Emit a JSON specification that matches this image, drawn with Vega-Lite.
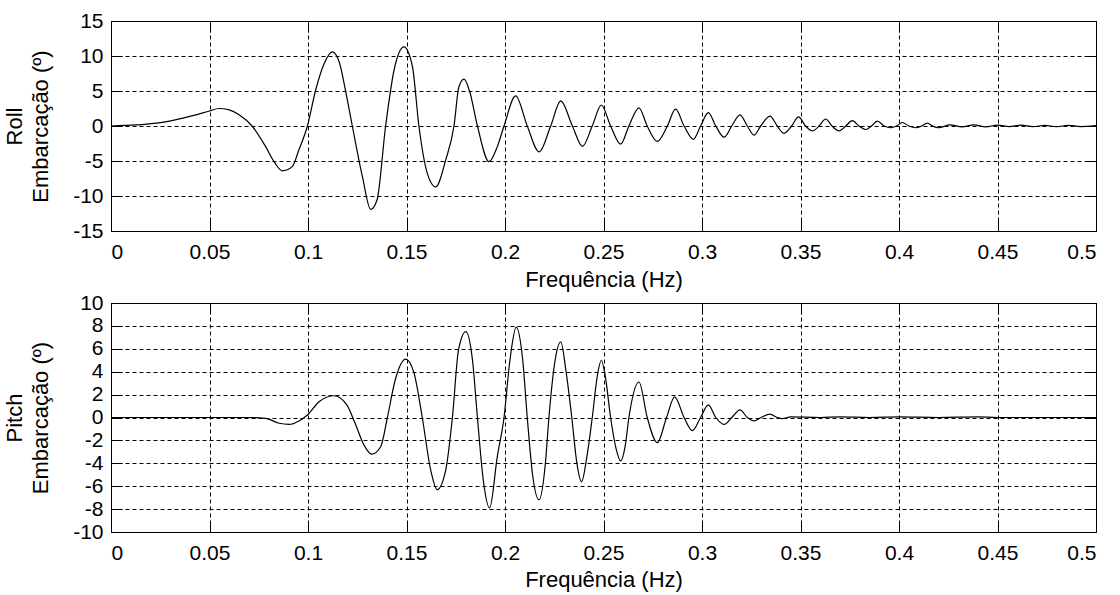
{
  "$schema": "https://vega.github.io/schema/vega-lite/v6.json",
  "background": "white",
  "padding": {"left": 3, "top": 9, "right": 5, "bottom": 5},
  "bounds": "flush",
  "spacing": 72,
  "config": {
    "view": {"stroke": "black", "strokeWidth": 1},
    "font": "Liberation Sans",
    "axis": {
      "labelFont": "Liberation Sans", "labelFontSize": 21, "labelColor": "black",
      "titleFont": "Liberation Sans", "titleFontSize": 22, "titleFontWeight": "normal", "titleColor": "black",
      "domain": false, "grid": true, "gridColor": "black", "gridOpacity": 1, "gridDash": [4, 3], "gridWidth": 1,
      "tickColor": "black", "tickSize": -11, "tickWidth": 1
    }
  },
  "datasets": {
    "roll": [
      {"f": 0, "v": 0}, {"f": 0.0125, "v": 0.15}, {"f": 0.0252, "v": 0.48}, {"f": 0.0375, "v": 1.2},
      {"f": 0.05, "v": 2.14}, {"f": 0.0548, "v": 2.5}, {"f": 0.06, "v": 2.3}, {"f": 0.065, "v": 1.6},
      {"f": 0.0716, "v": 0}, {"f": 0.0785, "v": -2.95}, {"f": 0.083, "v": -5.2}, {"f": 0.087, "v": -6.4},
      {"f": 0.092, "v": -5.8}, {"f": 0.0954, "v": -3.4}, {"f": 0.0997, "v": 0}, {"f": 0.1039, "v": 5.14},
      {"f": 0.108, "v": 8.8}, {"f": 0.1124, "v": 10.6}, {"f": 0.116, "v": 9.0}, {"f": 0.119, "v": 5.14},
      {"f": 0.1225, "v": 0}, {"f": 0.1276, "v": -7.2}, {"f": 0.1318, "v": -11.9}, {"f": 0.135, "v": -10.6},
      {"f": 0.1394, "v": 0}, {"f": 0.1437, "v": 8.0}, {"f": 0.1487, "v": 11.3}, {"f": 0.153, "v": 8.5},
      {"f": 0.1563, "v": 0}, {"f": 0.1606, "v": -6.8}, {"f": 0.1648, "v": -8.7}, {"f": 0.1699, "v": -4.86},
      {"f": 0.1741, "v": 0}, {"f": 0.1766, "v": 5.6}, {"f": 0.1792, "v": 6.7}, {"f": 0.182, "v": 5.0},
      {"f": 0.186, "v": 0}, {"f": 0.1919, "v": -5.1}, {"f": 0.1961, "v": -2.95}, {"f": 0.1995, "v": 0},
      {"f": 0.2054, "v": 4.3}, {"f": 0.2113, "v": 0}, {"f": 0.2173, "v": -3.7}, {"f": 0.2232, "v": 0},
      {"f": 0.2283, "v": 3.6}, {"f": 0.2342, "v": 0}, {"f": 0.2393, "v": -2.9}, {"f": 0.2443, "v": 0},
      {"f": 0.2489, "v": 3.0}, {"f": 0.2536, "v": 0}, {"f": 0.2587, "v": -2.6}, {"f": 0.2629, "v": 0},
      {"f": 0.268, "v": 2.6}, {"f": 0.2722, "v": 0}, {"f": 0.2773, "v": -2.2}, {"f": 0.2824, "v": 0},
      {"f": 0.2866, "v": 2.4}, {"f": 0.2909, "v": 0}, {"f": 0.2956, "v": -1.9}, {"f": 0.2993, "v": 0},
      {"f": 0.3032, "v": 1.9}, {"f": 0.307, "v": 0}, {"f": 0.3112, "v": -1.6}, {"f": 0.3151, "v": 0},
      {"f": 0.3193, "v": 1.6}, {"f": 0.323, "v": 0}, {"f": 0.3264, "v": -1.3}, {"f": 0.3298, "v": 0},
      {"f": 0.3345, "v": 1.4}, {"f": 0.3382, "v": 0}, {"f": 0.3416, "v": -1.05}, {"f": 0.3455, "v": 0},
      {"f": 0.349, "v": 1.3}, {"f": 0.3526, "v": 0}, {"f": 0.356, "v": -0.7}, {"f": 0.3594, "v": 0},
      {"f": 0.3628, "v": 1.0}, {"f": 0.366, "v": 0}, {"f": 0.3695, "v": -0.7}, {"f": 0.373, "v": 0},
      {"f": 0.3763, "v": 0.76}, {"f": 0.3797, "v": 0}, {"f": 0.3831, "v": -0.5}, {"f": 0.386, "v": 0},
      {"f": 0.389, "v": 0.7}, {"f": 0.3925, "v": 0}, {"f": 0.3958, "v": -0.25}, {"f": 0.3988, "v": 0},
      {"f": 0.4017, "v": 0.5}, {"f": 0.405, "v": 0}, {"f": 0.4085, "v": -0.25}, {"f": 0.4115, "v": 0},
      {"f": 0.4144, "v": 0.4}, {"f": 0.417, "v": 0}, {"f": 0.42, "v": -0.25}, {"f": 0.426, "v": 0.15},
      {"f": 0.432, "v": -0.12}, {"f": 0.438, "v": 0.15}, {"f": 0.444, "v": -0.12}, {"f": 0.45, "v": 0.12},
      {"f": 0.456, "v": -0.1}, {"f": 0.462, "v": 0.12}, {"f": 0.468, "v": -0.1}, {"f": 0.474, "v": 0.1},
      {"f": 0.48, "v": -0.1}, {"f": 0.486, "v": 0.1}, {"f": 0.492, "v": -0.08}, {"f": 0.5, "v": 0.05}
    ],
    "pitch": [
      {"f": 0, "v": 0}, {"f": 0.02, "v": 0}, {"f": 0.04, "v": 0}, {"f": 0.06, "v": 0}, {"f": 0.07, "v": 0},
      {"f": 0.0785, "v": -0.07}, {"f": 0.0853, "v": -0.5}, {"f": 0.0904, "v": -0.6}, {"f": 0.0954, "v": -0.3},
      {"f": 0.0997, "v": 0.22}, {"f": 0.1056, "v": 1.38}, {"f": 0.1132, "v": 1.9}, {"f": 0.1197, "v": 1.1},
      {"f": 0.1239, "v": -0.5}, {"f": 0.1284, "v": -2.4}, {"f": 0.1323, "v": -3.2}, {"f": 0.1369, "v": -2.55},
      {"f": 0.1403, "v": 0}, {"f": 0.1443, "v": 3.3}, {"f": 0.1496, "v": 5.1}, {"f": 0.1538, "v": 3.9},
      {"f": 0.158, "v": 0}, {"f": 0.1623, "v": -4.6}, {"f": 0.1656, "v": -6.3}, {"f": 0.1699, "v": -4.6},
      {"f": 0.1733, "v": 0}, {"f": 0.1764, "v": 5.9}, {"f": 0.1801, "v": 7.5}, {"f": 0.1835, "v": 5.0},
      {"f": 0.186, "v": 0}, {"f": 0.189, "v": -5.5}, {"f": 0.1922, "v": -7.9}, {"f": 0.1961, "v": -3.4},
      {"f": 0.1995, "v": 0}, {"f": 0.2025, "v": 5.0}, {"f": 0.2057, "v": 7.9}, {"f": 0.209, "v": 5.0},
      {"f": 0.2113, "v": 0}, {"f": 0.214, "v": -5.0}, {"f": 0.2173, "v": -7.2}, {"f": 0.2205, "v": -4.0},
      {"f": 0.2223, "v": 0}, {"f": 0.225, "v": 4.5}, {"f": 0.2283, "v": 6.6}, {"f": 0.231, "v": 4.0},
      {"f": 0.2339, "v": 0}, {"f": 0.2365, "v": -4.0}, {"f": 0.2389, "v": -5.6}, {"f": 0.2415, "v": -3.5},
      {"f": 0.2443, "v": 0}, {"f": 0.247, "v": 3.8}, {"f": 0.2489, "v": 5.0}, {"f": 0.251, "v": 3.5},
      {"f": 0.2536, "v": 0}, {"f": 0.2565, "v": -2.8}, {"f": 0.2587, "v": -3.8}, {"f": 0.261, "v": -2.5},
      {"f": 0.2629, "v": 0}, {"f": 0.268, "v": 3.1}, {"f": 0.2722, "v": 0}, {"f": 0.2773, "v": -2.2},
      {"f": 0.282, "v": 0}, {"f": 0.2861, "v": 1.8}, {"f": 0.2909, "v": 0}, {"f": 0.2951, "v": -1.15},
      {"f": 0.2993, "v": 0}, {"f": 0.3032, "v": 1.1}, {"f": 0.307, "v": 0}, {"f": 0.3112, "v": -0.6},
      {"f": 0.3151, "v": 0}, {"f": 0.3193, "v": 0.66}, {"f": 0.323, "v": 0}, {"f": 0.3264, "v": -0.3},
      {"f": 0.33, "v": 0}, {"f": 0.3345, "v": 0.3}, {"f": 0.3382, "v": 0}, {"f": 0.3408, "v": -0.1},
      {"f": 0.345, "v": 0.05}, {"f": 0.36, "v": 0}, {"f": 0.37, "v": 0.05}, {"f": 0.385, "v": 0},
      {"f": 0.4, "v": 0.05}, {"f": 0.42, "v": 0}, {"f": 0.44, "v": 0.05}, {"f": 0.45, "v": 0}, {"f": 0.5, "v": 0}
    ]
  },
  "vconcat": [
    {
      "width": 985, "height": 210,
      "data": {"name": "roll"},
      "layer": [
        {
          "mark": {"type": "line", "color": "black", "strokeWidth": 1.2, "interpolate": "monotone", "clip": true},
          "encoding": {
            "x": {"field": "f", "type": "quantitative", "scale": {"domain": [0, 0.5], "nice": false},
              "axis": {"orient": "bottom", "values": [0, 0.05, 0.1, 0.15, 0.2, 0.25, 0.3, 0.35, 0.4, 0.45, 0.5],
                "labelExpr": "'' + datum.value", "labelPadding": 21, "title": "Frequência (Hz)", "titlePadding": 7}},
            "y": {"field": "v", "type": "quantitative", "scale": {"domain": [-15, 15], "nice": false},
              "axis": {"orient": "left", "values": [-15, -10, -5, 0, 5, 10, 15],
                "labelExpr": "'' + datum.value", "labelPadding": 19, "title": ["Roll", "Embarcação (º)"], "titlePadding": 20, "titleLineHeight": 26}}
          }
        },
        {
          "mark": {"type": "line", "opacity": 0},
          "encoding": {
            "x": {"field": "f", "type": "quantitative", "scale": {"domain": [0, 0.5], "nice": false},
              "axis": {"orient": "top", "values": [0, 0.05, 0.1, 0.15, 0.2, 0.25, 0.3, 0.35, 0.4, 0.45, 0.5], "labels": false, "grid": false, "title": null}},
            "y": {"field": "v", "type": "quantitative", "scale": {"domain": [-15, 15], "nice": false},
              "axis": {"orient": "right", "values": [-15, -10, -5, 0, 5, 10, 15], "labels": false, "grid": false, "title": null}}
          }
        }
      ],
      "resolve": {"axis": {"x": "independent", "y": "independent"}}
    },
    {
      "width": 985, "height": 229,
      "data": {"name": "pitch"},
      "layer": [
        {
          "mark": {"type": "line", "color": "black", "strokeWidth": 1.2, "interpolate": "monotone", "clip": true},
          "encoding": {
            "x": {"field": "f", "type": "quantitative", "scale": {"domain": [0, 0.5], "nice": false},
              "axis": {"orient": "bottom", "values": [0, 0.05, 0.1, 0.15, 0.2, 0.25, 0.3, 0.35, 0.4, 0.45, 0.5],
                "labelExpr": "'' + datum.value", "labelPadding": 21, "title": "Frequência (Hz)", "titlePadding": 6}},
            "y": {"field": "v", "type": "quantitative", "scale": {"domain": [-10, 10], "nice": false},
              "axis": {"orient": "left", "values": [-10, -8, -6, -4, -2, 0, 2, 4, 6, 8, 10],
                "labelExpr": "'' + datum.value", "labelPadding": 19, "title": ["Pitch", "Embarcação (º)"], "titlePadding": 20, "titleLineHeight": 26}}
          }
        },
        {
          "mark": {"type": "line", "opacity": 0},
          "encoding": {
            "x": {"field": "f", "type": "quantitative", "scale": {"domain": [0, 0.5], "nice": false},
              "axis": {"orient": "top", "values": [0, 0.05, 0.1, 0.15, 0.2, 0.25, 0.3, 0.35, 0.4, 0.45, 0.5], "labels": false, "grid": false, "title": null}},
            "y": {"field": "v", "type": "quantitative", "scale": {"domain": [-10, 10], "nice": false},
              "axis": {"orient": "right", "values": [-10, -8, -6, -4, -2, 0, 2, 4, 6, 8, 10], "labels": false, "grid": false, "title": null}}
          }
        }
      ],
      "resolve": {"axis": {"x": "independent", "y": "independent"}}
    }
  ]
}
